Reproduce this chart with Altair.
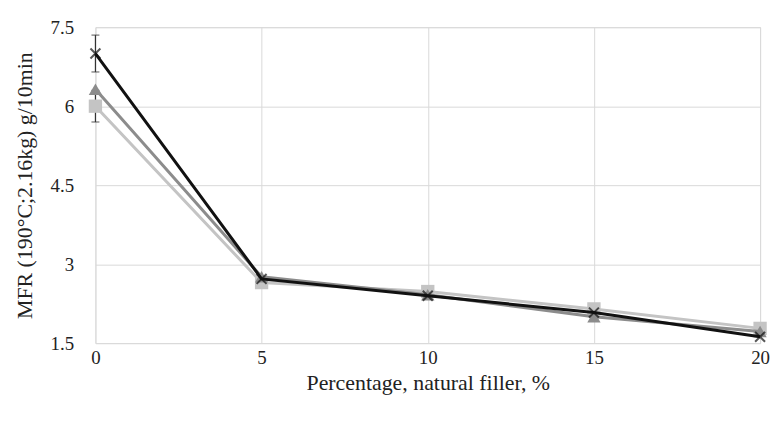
import altair as alt
import pandas as pd

x_vals = [0, 5, 10, 15, 20]
series_names = ["Square", "Triangle", "Cross"]
square_vals = [6.0, 2.65, 2.48, 2.15, 1.78]
triangle_vals = [6.32, 2.76, 2.42, 2.0, 1.72]
cross_vals = [7.0, 2.72, 2.4, 2.08, 1.62]

err_x = [0, 0]
err_lo = [5.7, 6.65]
err_hi = [6.3, 7.35]

rows = []
for name, vals in zip(series_names, [square_vals, triangle_vals, cross_vals]):
    for xv, yv in zip(x_vals, vals):
        rows.append({"x": xv, "y": yv, "s": name})
df = pd.DataFrame(rows)
err_df = pd.DataFrame({"x": err_x, "lo": err_lo, "hi": err_hi})

colors = {"Square": "#c4c4c4", "Triangle": "#8c8c8c", "Cross": "#111111"}
shapes = {"Square": "square", "Triangle": "triangle-up", "Cross": "M-1,-1L1,1M-1,1L1,-1"}

xs = alt.Scale(domain=[0, 20], nice=False)
ys = alt.Scale(domain=[1.5, 7.5], nice=False)
font = "Liberation Serif"

xaxis = alt.Axis(values=x_vals, title="Percentage, natural filler, %", grid=True,
                 gridColor="#d9d9d9", domain=False, ticks=False, labelPadding=5,
                 labelFontSize=19, titleFontSize=22, labelFont=font, titleFont=font,
                 labelColor="#222", titleColor="#222", titlePadding=6, titleFontWeight="normal",
                 labelFlush=False)
yaxis = alt.Axis(values=[1.5, 3, 4.5, 6, 7.5], title="MFR (190°C;2.16kg)  g/10min", grid=True,
                 gridColor="#d9d9d9", domain=False, ticks=False, labelPadding=22,
                 labelFontSize=19, titleFontSize=22, labelFont=font, titleFont=font,
                 labelColor="#222", titleColor="#222", titlePadding=14, titleFontWeight="normal",
                 labelExpr="datum.value == 1.5 ? '1.5' : datum.value == 3 ? '3' : datum.value == 4.5 ? '4.5' : datum.value == 6 ? '6' : '7.5'")

base = alt.Chart(df)
layers = []
errs = alt.Chart(err_df).mark_rule(color="#333", strokeWidth=1.2).encode(
    x=alt.X("x:Q", scale=xs, axis=xaxis), y=alt.Y("lo:Q", scale=ys, axis=yaxis), y2="hi:Q")
caps_lo = alt.Chart(err_df).mark_tick(color="#333", orient="horizontal", size=8, thickness=1.2).encode(
    x=alt.X("x:Q", scale=xs), y=alt.Y("lo:Q", scale=ys))
caps_hi = alt.Chart(err_df).mark_tick(color="#333", orient="horizontal", size=8, thickness=1.2).encode(
    x=alt.X("x:Q", scale=xs), y=alt.Y("hi:Q", scale=ys))
layers += [errs, caps_lo, caps_hi]

for name in series_names:
    d = base.transform_filter(alt.datum.s == name)
    line = d.mark_line(color=colors[name], strokeWidth=3).encode(
        x=alt.X("x:Q", scale=xs), y=alt.Y("y:Q", scale=ys))
    if name == "Cross":
        pts = d.mark_point(shape=shapes[name], color=colors[name], size=100, strokeWidth=2, filled=False).encode(
            x=alt.X("x:Q", scale=xs), y=alt.Y("y:Q", scale=ys))
    else:
        pts = d.mark_point(shape=shapes[name], color=colors[name], size=180, filled=True, opacity=1).encode(
            x=alt.X("x:Q", scale=xs), y=alt.Y("y:Q", scale=ys))
    layers += [line, pts]

chart = alt.layer(*layers).properties(
    width=669, height=318,
    autosize=alt.AutoSizeParams(type="none"),
    padding={"left": 88, "top": 18, "right": 13, "bottom": 70},
).configure_view(stroke=None).configure(background="white", font=font).configure_axis(
    labelFont=font, titleFont=font)

chart.save("out.html", embed_options={"renderer": "svg", "actions": False})
